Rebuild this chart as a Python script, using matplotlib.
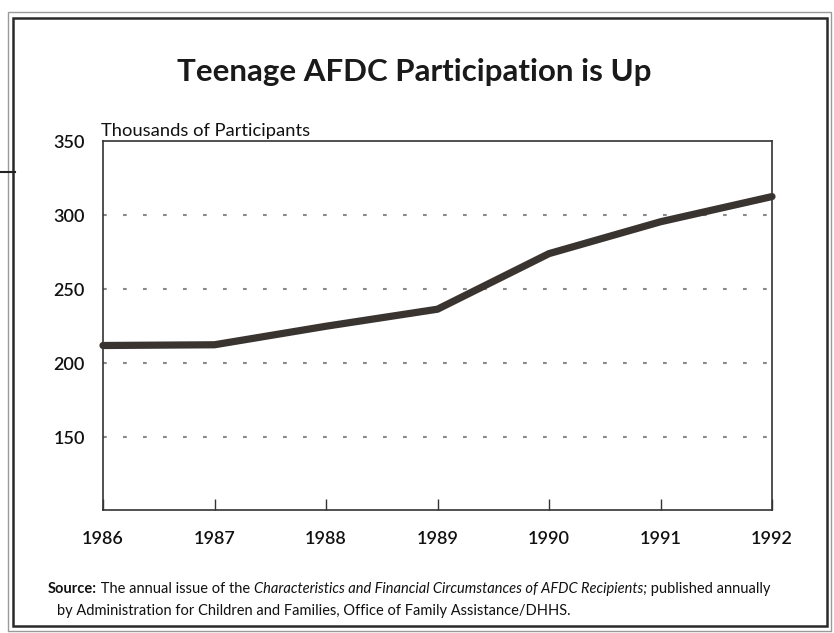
import matplotlib
matplotlib.use('Agg')
import matplotlib.pyplot as plt
from matplotlib.patches import Rectangle
from matplotlib.lines import Line2D

plt.rcParams['font.family'] = ['Lato', 'DejaVu Sans']

years = [1986, 1987, 1988, 1989, 1990, 1991, 1992]
participants = [212, 212.5, 225, 236.5, 274, 295.5, 312.5]
y_ticks = [150, 200, 250, 300, 350]
grid_levels = [150, 200, 250, 300]

W, H = 834, 633
fig = plt.figure(figsize=(W / 100, H / 100), dpi=100)
fig.patch.set_facecolor('white')

# page frame (double rule)
fig.add_artist(Rectangle((8 / W, 1 - 631 / H), 823 / W, 619 / H, transform=fig.transFigure,
                         fill=False, ec='#9a9a9a', lw=1.0))
fig.add_artist(Rectangle((13 / W, 1 - 626 / H), 814 / W, 608 / H, transform=fig.transFigure,
                         fill=False, ec='#2a2a2a', lw=1.8))
fig.add_artist(Line2D([0, 15 / W], [1 - 172 / H, 1 - 172 / H], transform=fig.transFigure,
                      color='#222222', lw=1.5))

ax = fig.add_axes([103 / W, 1 - 510 / H, 669 / W, 369 / H])
ax.set_xlim(1986, 1992)
ax.set_ylim(101, 350)

for g in grid_levels:
    ax.axhline(g, color='#8a8a8a', lw=1.5, linestyle=(0, (1.8, 7.8)), zorder=1)

ax.plot(years, participants, color='#3a3431', lw=5.2, solid_capstyle='round',
        solid_joinstyle='round', clip_on=False, zorder=3)

for s in ax.spines.values():
    s.set_color('#333333')
    s.set_linewidth(1.2)

ax.set_xticks(years)
ax.set_xticklabels([str(y) for y in years])
ax.set_yticks(y_ticks)
ax.tick_params(axis='x', direction='in', length=8, width=1, color='#333333', pad=15,
               labelsize=13)
ax.tick_params(axis='y', length=0, pad=13, labelsize=13)
for lab in ax.get_xticklabels() + ax.get_yticklabels():
    lab.set_fontweight('semibold')
    lab.set_color('#111111')

ax.text(-0.003, 1.006, 'Thousands of Participants', transform=ax.transAxes,
        ha='left', va='bottom', fontsize=13.2, color='#111111')

fig.text(414 / W, 1 - 72 / H, 'Teenage AFDC Participation is Up', ha='center', va='center',
         fontsize=22.5, fontweight='bold', color='#1a1a1a')

# source note with mixed styles
renderer = fig.canvas.get_renderer()
pieces = [('Source:', 'normal', 'bold'),
          (' The annual issue of the ', 'normal', 'normal'),
          ('Characteristics and Financial Circumstances of AFDC Recipients;', 'italic', 'normal'),
          (' published annually', 'normal', 'normal')]
x = 48
for txt, style, weight in pieces:
    t = fig.text(x / W, 1 - 589 / H, txt, ha='left', va='center', fontsize=10.5,
                 fontstyle=style, fontweight=weight, color='#111111')
    x = t.get_window_extent(renderer).x1
fig.text(57 / W, 1 - 611 / H,
         'by Administration for Children and Families, Office of Family Assistance/DHHS.',
         ha='left', va='center', fontsize=10.5, color='#111111')

fig.savefig('out.png', dpi=100)
